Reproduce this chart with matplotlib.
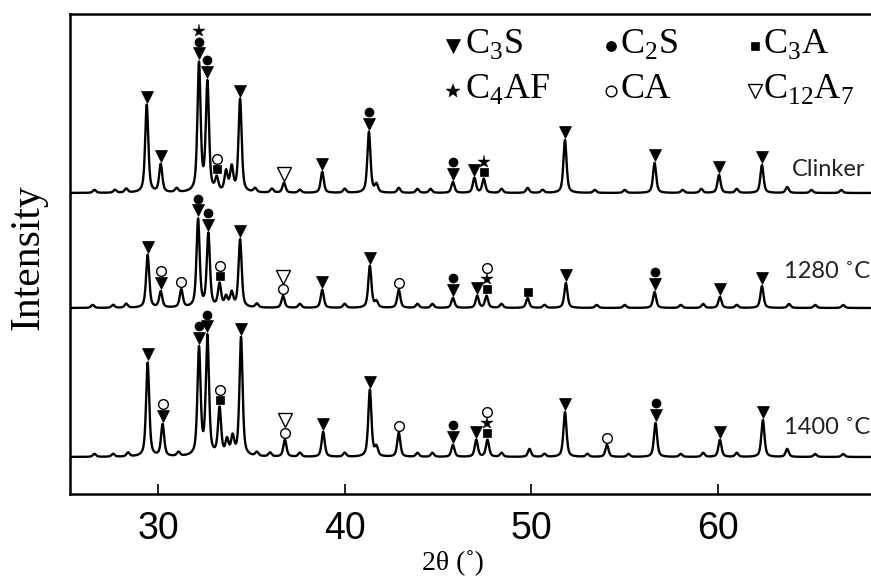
import numpy as np
import matplotlib
matplotlib.use("Agg")
import matplotlib.pyplot as plt
from matplotlib.lines import Line2D

# ---------------- data ----------------
x_min, x_max = 25.29, 68.19
x_ticks = [30, 40, 50, 60]

# peak positions (2θ) and heights (intensity units above each trace baseline)
clinker_pos = [26.6, 27.7, 28.3, 29.4, 30.15, 31.0, 32.2, 32.65, 33.15, 33.65, 33.95, 34.4,
               35.2, 36.1, 36.75, 37.6, 38.8, 40.0, 41.3, 41.7, 42.9, 43.9, 44.6, 45.8,
               46.95, 47.45, 48.4, 49.8, 50.6, 51.8, 53.4, 55.0, 56.6, 58.1, 59.1, 60.05,
               61.0, 62.35, 63.7, 65.0, 66.6]
clinker_h = [3, 3, 4, 88, 28, 4, 128, 109, 13, 20, 24, 93,
             4, 4, 10, 3, 21, 4, 61, 8, 5, 4, 4, 11,
             15, 14, 4, 5, 3, 53, 3, 3, 30, 3, 4, 18,
             4, 28, 6, 3, 3]

t1280_pos = [26.5, 27.6, 28.3, 29.45, 30.15, 31.25, 32.15, 32.7, 33.3, 33.65, 33.95, 34.4,
             35.3, 36.7, 37.6, 38.8, 40.0, 41.35, 41.7, 42.9, 43.9, 44.7, 45.8, 47.1,
             47.6, 48.4, 49.8, 50.7, 51.85, 53.5, 55.0, 56.6, 58.0, 59.2, 60.1, 61.0,
             62.35, 63.8, 65.2, 66.7]
t1280_h = [3, 3, 4, 53, 16, 18, 88, 73, 23, 10, 14, 68,
           4, 12, 4, 18, 4, 42, 6, 18, 4, 4, 10, 12,
           12, 4, 10, 3, 25, 3, 3, 16, 3, 4, 11, 3,
           22, 4, 3, 3]

t1400_pos = [26.6, 27.6, 28.4, 29.45, 30.25, 31.1, 32.2, 32.65, 33.3, 33.7, 34.0, 34.45,
             35.3, 36.0, 36.8, 37.6, 38.85, 40.0, 41.35, 41.7, 42.9, 43.9, 44.7, 45.8,
             47.05, 47.65, 48.4, 49.9, 50.7, 51.8, 53.0, 54.05, 55.2, 56.65, 58.0, 59.2,
             60.1, 61.0, 62.4, 63.7, 65.2, 66.7]
t1400_h = [3, 3, 4, 94, 32, 4, 107, 119, 47, 15, 18, 119,
           4, 4, 17, 4, 25, 4, 67, 9, 24, 4, 4, 12,
           17, 17, 4, 8, 3, 45, 3, 12, 3, 34, 3, 4,
           17, 4, 37, 8, 3, 3]

# phase markers: (2θ, phases stacked from bottom to top)
clinker_marks = [(29.4, "C3S"), (30.15, "C3S"), (32.2, "C3S C2S C4AF"), (32.65, "C3S C2S"),
                 (33.15, "C3A CA"), (34.4, "C3S"), (36.75, "C12A7"), (38.8, "C3S"),
                 (41.3, "C3S C2S"), (45.8, "C3S C2S"), (46.95, "C3S"), (47.45, "C3A C4AF"),
                 (51.8, "C3S"), (56.6, "C3S"), (60.05, "C3S"), (62.35, "C3S")]
t1280_marks = [(29.45, "C3S"), (30.15, "C3S CA"), (31.25, "CA"), (32.15, "C3S C2S"),
               (32.7, "C3S C2S"), (33.3, "C3A CA"), (34.4, "C3S"), (36.7, "CA C12A7"),
               (38.8, "C3S"), (41.35, "C3S"), (42.9, "CA"), (45.8, "C3S C2S"),
               (47.1, "C3S"), (47.6, "C3A C4AF CA"), (49.8, "C3A"), (51.85, "C3S"),
               (56.6, "C3S C2S"), (60.1, "C3S"), (62.35, "C3S")]
t1400_marks = [(29.45, "C3S"), (30.25, "C3S CA"), (32.2, "C3S C2S"), (32.65, "C3S C2S"),
               (33.3, "C3A CA"), (34.45, "C3S"), (36.8, "CA C12A7"), (38.85, "C3S"),
               (41.35, "C3S"), (42.9, "CA"), (45.8, "C3S C2S"), (47.05, "C3S"),
               (47.65, "C3A C4AF CA"), (51.8, "C3S"), (54.05, "CA"), (56.65, "C3S C2S"),
               (60.1, "C3S"), (62.4, "C3S")]

trace_labels = ["Clinker", "1280 \u02daC", "1400 \u02daC"]

# ---------------- styles ----------------
baselines = [301, 186, 37]
label_y = [324, 222, 67]
phase_style = {
    "C3S":   dict(marker="v", ms=9.0, mfc="black", mec="black", mew=0.5, half=6.0),
    "C2S":   dict(marker="o", ms=6.5, mfc="black", mec="black", mew=0.5, half=4.6),
    "C3A":   dict(marker="s", ms=5.8, mfc="black", mec="black", mew=0.5, half=4.2),
    "C4AF":  dict(marker="*", ms=9.5, mfc="black", mec="black", mew=0.3, half=5.0),
    "CA":    dict(marker="o", ms=7.0, mfc="white", mec="black", mew=1.0, half=5.0),
    "C12A7": dict(marker="v", ms=9.5, mfc="white", mec="black", mew=1.0, half=6.2),
}
phase_text = {
    "C3S": r"C$_\mathregular{3}$S", "C2S": r"C$_\mathregular{2}$S",
    "C3A": r"C$_\mathregular{3}$A", "C4AF": r"C$_\mathregular{4}$AF",
    "CA": "CA", "C12A7": r"C$_\mathregular{12}$A$_\mathregular{7}$",
}

W, H = 871, 580
fig = plt.figure(figsize=(W / 100, H / 100), dpi=100)
ax = fig.add_axes([70 / W, 86 / H, 1 - 70 / W, 480 / H])
ax.set_xlim(x_min, x_max)
ax.set_ylim(0, 480)

x = np.linspace(x_min, x_max, 3000)


def profile(pos, hts, fwhm=0.2, eta=0.6):
    y = np.zeros_like(x)
    g = fwhm / 2
    for p, h in zip(pos, hts):
        lor = 1.0 / (1.0 + ((x - p) / g) ** 2)
        gau = np.exp(-np.log(2) * ((x - p) / g) ** 2)
        y += h * (eta * lor + (1 - eta) * gau)
    return y


traces = [(clinker_pos, clinker_h, clinker_marks),
          (t1280_pos, t1280_h, t1280_marks),
          (t1400_pos, t1400_h, t1400_marks)]

for (pos, hts, marks), base, lab, ly in zip(traces, baselines, trace_labels, label_y):
    y = base + profile(pos, hts)
    ax.plot(x, y, color="black", lw=1.7, solid_joinstyle="round")
    for p, phases in marks:
        sel = np.abs(x - p) < 0.12
        top = y[sel].max() + 2
        for ph in phases.split():
            st = phase_style[ph]
            top += st["half"]
            ax.plot([p], [top], linestyle="none", marker=st["marker"], ms=st["ms"],
                    mfc=st["mfc"], mec=st["mec"], mew=st["mew"], clip_on=False, zorder=5)
            top += st["half"] + 1
    ax.text(63.55 if lab != "Clinker" else 63.95, ly, lab, fontsize=17,
            family=["Lato", "DejaVu Sans"], va="center", ha="left", color="#222222")

# legend drawn in figure pixels
legend_rows = [["C3S", "C2S", "C3A"], ["C4AF", "CA", "C12A7"]]
col_mark_x = [453, 611, 755]
col_text_x = [465, 620, 763]
row_y = [44, 89]
for r, row in enumerate(legend_rows):
    for c, ph in enumerate(row):
        st = phase_style[ph]
        fig.add_artist(Line2D([col_mark_x[c] / W], [1 - (row_y[r] + 2) / H],
                              transform=fig.transFigure, linestyle="none",
                              marker=st["marker"], ms=st["ms"] * 1.1, mfc=st["mfc"],
                              mec=st["mec"], mew=st["mew"]))
        fig.text(col_text_x[c] / W, 1 - row_y[r] / H, phase_text[ph], fontsize=26,
                 family=["Liberation Serif", "DejaVu Serif"], va="center", ha="left")

for s in ["left", "bottom", "top"]:
    ax.spines[s].set_linewidth(1.8)
ax.spines["right"].set_visible(False)
ax.set_yticks([])
ax.set_xticks(x_ticks)
ax.tick_params(axis="x", direction="in", length=7, width=1.2, pad=12)
for t in ax.get_xticklabels():
    t.set_fontfamily(["Liberation Sans Narrow", "Liberation Sans", "DejaVu Sans"])
    t.set_fontsize(27)

fig.text(453 / W, 1 - 563 / H, "2\u03b8 (\u02da)", fontsize=20,
         family=["Liberation Serif", "DejaVu Serif"], ha="center", va="center")
fig.text(28 / W, 1 - 257 / H, "Intensity", fontsize=30, rotation=90,
         family=["Liberation Serif", "DejaVu Serif"], ha="center", va="center")

fig.savefig("out.png", dpi=100)
